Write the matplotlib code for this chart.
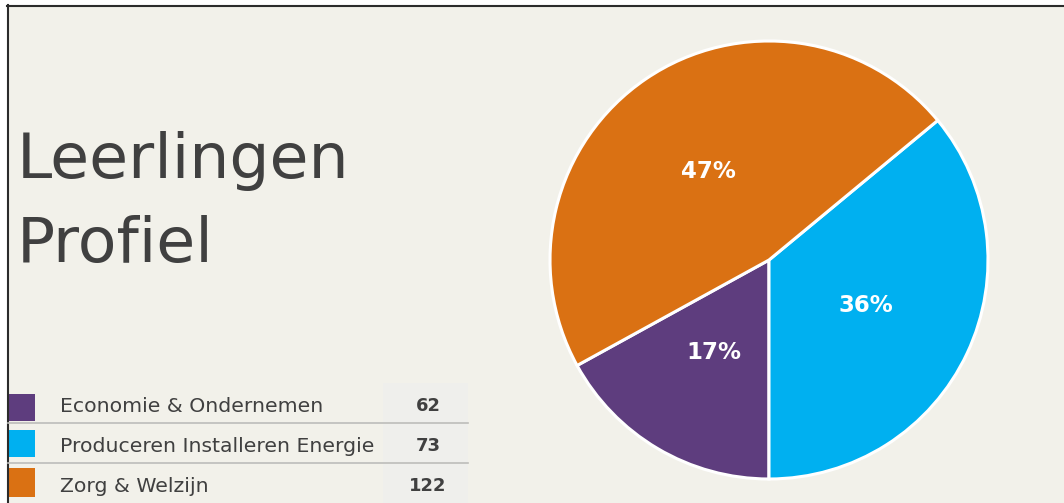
import matplotlib.pyplot as plt
from matplotlib.patches import Rectangle
from matplotlib.lines import Line2D

# Data
categories = ['Economie & Ondernemen', 'Produceren Installeren Energie', 'Zorg & Welzijn']
counts = [62, 73, 122]
shares = [17, 36, 47]          # percentages as shown in the pie
colors = ['#5E3D7E', '#00B0F0', '#DA7113']

bg = '#F2F1EA'
text_col = '#404040'
W, H = 1064, 503

plt.rcParams['font.family'] = ['DejaVu Sans']

fig = plt.figure(figsize=(W / 100, H / 100), dpi=100)
fig.patch.set_facecolor('white')

# overlay axes in pixel coordinates for the slide background, title and table
ov = fig.add_axes([0, 0, 1, 1])
ov.set_xlim(0, W)
ov.set_ylim(H, 0)
ov.axis('off')
ov.add_patch(Rectangle((7, 5), W, H, facecolor=bg, edgecolor='none'))
ov.add_line(Line2D([7, W], [5.5, 5.5], color='#2b2b2b', lw=1.5))
ov.add_line(Line2D([7.5, 7.5], [5, H], color='#2b2b2b', lw=1.5))

ov.text(17, 178, 'Leerlingen', fontsize=45.5, color=text_col, va='baseline', ha='left')
ov.text(17, 262, 'Profiel', fontsize=45.5, color=text_col, va='baseline', ha='left')

# table
ov.add_patch(Rectangle((383, 383), 85, H - 383, facecolor='#EFEFEC', edgecolor='none'))
row_tops = [394, 430, 468]
baselines = [412, 452, 492]
row_h = 27
for i, (cat, n, c) in enumerate(zip(categories, counts, colors)):
    ov.add_patch(Rectangle((8, row_tops[i]), 27, row_h + (2 if i == 2 else 0),
                           facecolor=c, edgecolor='none'))
    ov.text(60, baselines[i], cat, fontsize=14.7, color=text_col, va='baseline', ha='left')
    ov.text(428, baselines[i] - 1, str(n), fontsize=13, color=text_col,
            va='baseline', ha='center', fontweight='bold')
for y in [423, 463]:
    ov.add_line(Line2D([8, 468], [y, y], color='#BDBDBA', lw=1.2))

# pie
cx, cy, r = 769, 260, 219
ax = fig.add_axes([(cx - r) / W, (H - cy - r) / H, 2 * r / W, 2 * r / H])
ax.set_facecolor('none')
wedges, _, autotexts = ax.pie(
    shares, colors=colors, startangle=270 - shares[0] * 3.6, counterclock=True,
    autopct='%d%%', pctdistance=0.49,
    wedgeprops=dict(edgecolor='white', linewidth=2.2),
    textprops=dict(color='white', fontsize=16.5, fontweight='bold'))
ax.set_xlim(-1.0, 1.0)
ax.set_ylim(-1.0, 1.0)
ax.set_aspect('equal')

fig.savefig('out.png', dpi=100, facecolor=fig.get_facecolor())
